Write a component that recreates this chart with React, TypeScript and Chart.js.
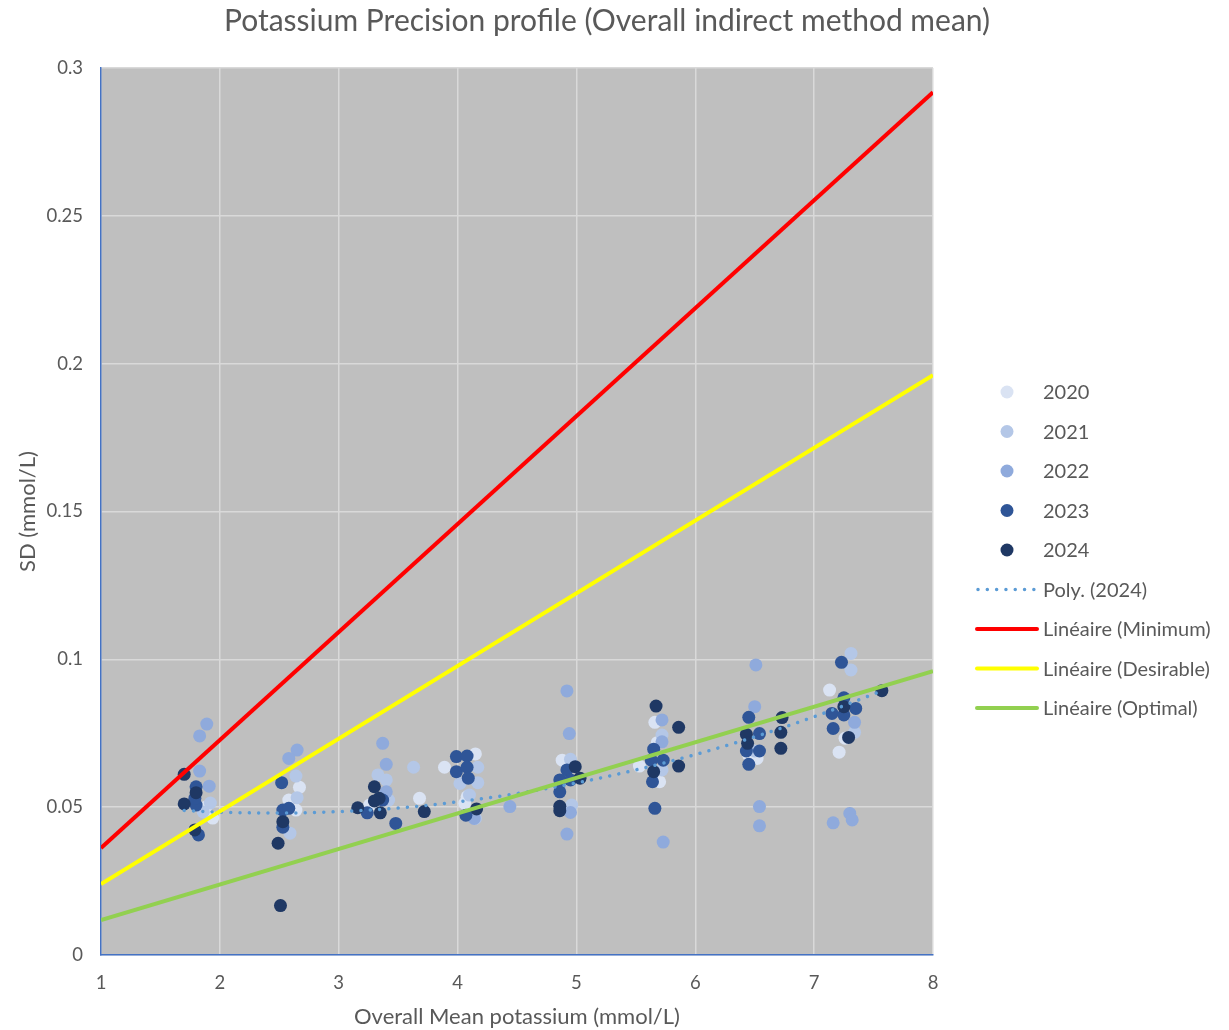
import React, { useEffect, useRef } from "react";
import { Chart, registerables } from "chart.js";

Chart.register(...registerables);

const CHART_TITLE = "Potassium Precision profile (Overall indirect method mean)";
const X_TITLE = "Overall Mean potassium (mmol/L)";
const Y_TITLE = "SD (mmol/L)";

const yearLabels = ["2020", "2021", "2022", "2023", "2024"];
const yearColors = ["#DAE3F3", "#B4C7E7", "#8FAADC", "#2F5597", "#1F3864"];

// [mean, SD] per laboratory
const data2020: [number, number][] = [
  [1.94, 0.0463], [1.88, 0.05], [2.67, 0.0567], [2.58, 0.0524], [2.64, 0.049],
  [3.26, 0.0507], [3.68, 0.053], [3.89, 0.0635], [4.15, 0.068], [4.06, 0.0513],
  [4.08, 0.0535], [4.88, 0.0659], [5.53, 0.0639], [5.66, 0.0787], [5.68, 0.0718],
  [5.7, 0.0586], [6.45, 0.0676], [6.52, 0.0665], [7.13, 0.0896], [7.21, 0.0686],
  [7.26, 0.0733],
];
const data2021: [number, number][] = [
  [1.92, 0.0514], [1.86, 0.0484], [2.64, 0.0605], [2.65, 0.0532], [2.59, 0.0412],
  [3.33, 0.0609], [3.4, 0.0592], [3.42, 0.0524], [3.63, 0.0635], [4.17, 0.0635],
  [4.02, 0.058], [4.17, 0.0583], [4.15, 0.0462], [4.1, 0.0541], [4.95, 0.0662],
  [4.96, 0.0507], [5.72, 0.0744], [5.72, 0.0626], [6.5, 0.069], [7.31, 0.102],
  [7.31, 0.0964], [7.34, 0.0753],
];
const data2022: [number, number][] = [
  [1.89, 0.0781], [1.83, 0.0741], [1.83, 0.0622], [1.91, 0.0571], [2.65, 0.0693],
  [2.58, 0.0665], [3.37, 0.0716], [3.4, 0.0645], [3.4, 0.0552], [4.14, 0.0462],
  [4.44, 0.0502], [4.92, 0.0893], [4.94, 0.0749], [4.92, 0.0409], [4.95, 0.0482],
  [5.72, 0.0795], [5.72, 0.0721], [5.73, 0.0382], [6.51, 0.0981], [6.5, 0.084],
  [6.54, 0.0502], [6.54, 0.0437], [7.34, 0.0787], [7.16, 0.0447], [7.3, 0.0479],
  [7.32, 0.0457],
];
const data2023: [number, number][] = [
  [1.8, 0.0569], [1.8, 0.0507], [1.82, 0.0406], [1.79, 0.053], [2.52, 0.0583],
  [2.53, 0.049], [2.58, 0.0496], [2.53, 0.0432], [3.24, 0.0481], [3.48, 0.0445],
  [3.37, 0.0524], [3.99, 0.0671], [4.08, 0.0673], [3.99, 0.062], [4.08, 0.0635],
  [4.09, 0.0598], [4.07, 0.0473], [4.92, 0.0626], [4.86, 0.0592], [4.86, 0.0552],
  [4.95, 0.0592], [5.65, 0.0696], [5.73, 0.0659], [5.64, 0.0586], [5.66, 0.0496],
  [5.63, 0.0659], [6.45, 0.0804], [6.54, 0.0749], [6.43, 0.069], [6.54, 0.069],
  [6.45, 0.0645], [7.23, 0.099], [7.25, 0.087], [7.15, 0.0817], [7.25, 0.0812],
  [7.35, 0.0834], [7.16, 0.0766],
];
const data2024: [number, number][] = [
  [1.7, 0.0611], [1.7, 0.0511], [1.8, 0.0549], [1.79, 0.0423], [2.53, 0.0451],
  [2.49, 0.0378], [2.51, 0.0167], [3.3, 0.0569], [3.34, 0.053], [3.3, 0.0521],
  [3.16, 0.0498], [3.35, 0.0481], [3.72, 0.0485], [4.16, 0.0494], [4.99, 0.0637],
  [5.03, 0.0598], [4.86, 0.0488], [4.86, 0.0503], [5.67, 0.0842], [5.86, 0.077],
  [5.86, 0.0639], [5.65, 0.062], [6.43, 0.0746], [6.44, 0.0716], [6.73, 0.0803],
  [6.72, 0.0753], [6.72, 0.0699], [7.25, 0.084], [7.29, 0.0736], [7.57, 0.0894],
];

// Poly. (2024) trendline
const polyX = [1.7, 2.0, 2.5, 3.0, 3.5, 4.0, 4.5, 5.0, 5.5, 6.0, 6.5, 7.0, 7.57];
const polyY = [0.0489, 0.0483, 0.048, 0.0485, 0.0497, 0.0518, 0.0546, 0.0582, 0.0626, 0.0678, 0.0738, 0.0806, 0.0893];

// Linear limit lines (endpoints at x = 1 and x = 8)
const limitX = [1, 8];
const minimumY = [0.0362, 0.2918];
const desirableY = [0.024, 0.1961];
const optimalY = [0.0118, 0.096];

const xTicks = [1, 2, 3, 4, 5, 6, 7, 8];
const yTicks = [0, 0.05, 0.1, 0.15, 0.2, 0.25, 0.3];

const FONT = "Lato";
const TEXT = "#595959";

const toPts = (arr: [number, number][]) => arr.map(([x, y]) => ({ x, y }));
const zipPts = (xs: number[], ys: number[]) => xs.map((x, i) => ({ x, y: ys[i] }));

type LegendEntry = { label: string; kind: "dot" | "line"; color: string; dash?: boolean };

const legendEntries: LegendEntry[] = [
  ...yearLabels.map((l, i) => ({ label: l, kind: "dot" as const, color: yearColors[i] })),
  { label: "Poly. (2024)", kind: "line", color: "#5B9BD5", dash: true },
  { label: "Linéaire (Minimum)", kind: "line", color: "#FF0000" },
  { label: "Linéaire (Desirable)", kind: "line", color: "#FFFF00" },
  { label: "Linéaire (Optimal)", kind: "line", color: "#92D050" },
];

const decorPlugin = {
  id: "decor",
  beforeDraw(chart: any) {
    const { ctx, chartArea } = chart;
    ctx.save();
    ctx.fillStyle = "#FFFFFF";
    ctx.fillRect(0, 0, chart.width, chart.height);
    ctx.fillStyle = "#BFBFBF";
    ctx.fillRect(chartArea.left, chartArea.top, chartArea.right - chartArea.left, chartArea.bottom - chartArea.top);
    ctx.restore();
  },
  afterDraw(chart: any) {
    const { ctx } = chart;
    ctx.save();
    ctx.fillStyle = TEXT;
    ctx.textAlign = "center";
    ctx.textBaseline = "middle";
    ctx.font = `30px ${FONT}`;
    ctx.fillText(CHART_TITLE, 607, 21);

    const startY = 392;
    const step = 39.5;
    ctx.font = `20px ${FONT}`;
    ctx.textAlign = "left";
    legendEntries.forEach((e, i) => {
      const y = startY + i * step;
      if (e.kind === "dot") {
        ctx.beginPath();
        ctx.fillStyle = e.color;
        ctx.arc(1007, y, 6.5, 0, Math.PI * 2);
        ctx.fill();
      } else {
        ctx.beginPath();
        ctx.strokeStyle = e.color;
        if (e.dash) {
          ctx.lineWidth = 3.5;
          ctx.lineCap = "round";
          ctx.setLineDash([0.01, 9.3]);
          ctx.moveTo(978, y);
          ctx.lineTo(1036, y);
        } else {
          ctx.lineWidth = 4;
          ctx.lineCap = "round";
          ctx.setLineDash([]);
          ctx.moveTo(977, y);
          ctx.lineTo(1037, y);
        }
        ctx.stroke();
        ctx.setLineDash([]);
      }
      ctx.fillStyle = TEXT;
      ctx.fillText(e.label, 1043, y + 1);
    });
    ctx.restore();
  },
};

export default function App() {
  const canvasRef = useRef<HTMLCanvasElement | null>(null);

  useEffect(() => {
    document.body.style.margin = "0";
    const canvas = canvasRef.current;
    if (!canvas) return;
    const yearData = [data2020, data2021, data2022, data2023, data2024];
    const scatterSets = yearData.map((d, i) => ({
      type: "scatter" as const,
      label: yearLabels[i],
      data: toPts(d),
      backgroundColor: yearColors[i],
      borderWidth: 0,
      pointRadius: 6.5,
      pointHoverRadius: 6.5,
      order: 20 - i,
    }));
    const lineBase = {
      type: "line" as const,
      pointRadius: 0,
      pointHoverRadius: 0,
      fill: false,
    };
    const chart = new Chart(canvas, {
      type: "scatter",
      data: {
        datasets: [
          ...scatterSets,
          {
            ...lineBase,
            label: "Poly. (2024)",
            data: zipPts(polyX, polyY),
            borderColor: "#5B9BD5",
            borderWidth: 3.5,
            borderDash: [0.01, 9.3],
            borderCapStyle: "round",
            cubicInterpolationMode: "monotone",
            order: 5,
          },
          {
            ...lineBase,
            label: "Linéaire (Minimum)",
            data: zipPts(limitX, minimumY),
            borderColor: "#FF0000",
            borderWidth: 4,
            order: 4,
          },
          {
            ...lineBase,
            label: "Linéaire (Desirable)",
            data: zipPts(limitX, desirableY),
            borderColor: "#FFFF00",
            borderWidth: 4,
            order: 3,
          },
          {
            ...lineBase,
            label: "Linéaire (Optimal)",
            data: zipPts(limitX, optimalY),
            borderColor: "#92D050",
            borderWidth: 4,
            order: 2,
          },
        ] as any,
      },
      options: {
        animation: false,
        responsive: true,
        maintainAspectRatio: false,
        layout: { padding: { top: 68, right: 296, left: 0, bottom: 0 } },
        plugins: {
          legend: { display: false },
          title: { display: false },
          tooltip: { enabled: false },
        },
        scales: {
          x: {
            type: "linear",
            min: 1,
            max: 8,
            afterFit: (s: any) => {
              s.height = 75;
            },
            afterBuildTicks: (s: any) => {
              s.ticks = xTicks.map((v) => ({ value: v }));
            },
            ticks: {
              color: TEXT,
              font: { family: FONT, size: 18.5 },
              padding: 17,
              callback: (v: any) => String(v),
            },
            grid: { color: "#D9D9D9", lineWidth: 1.5, drawTicks: false },
            border: { color: "#4472C4", width: 1.5 },
            title: {
              display: true,
              text: X_TITLE,
              color: TEXT,
              font: { family: FONT, size: 22 },
              padding: { top: 0, bottom: 0 },
            },
          },
          y: {
            type: "linear",
            min: 0,
            max: 0.3,
            afterFit: (s: any) => {
              s.width = 101;
            },
            afterBuildTicks: (s: any) => {
              s.ticks = yTicks.map((v) => ({ value: v }));
            },
            ticks: {
              color: TEXT,
              font: { family: FONT, size: 18.5 },
              padding: 18,
              callback: (v: any) => String(Number(Number(v).toFixed(2))),
            },
            grid: { color: "#D9D9D9", lineWidth: 1.5, drawTicks: false },
            border: { color: "#4472C4", width: 1.5 },
            title: {
              display: true,
              text: Y_TITLE,
              color: TEXT,
              font: { family: FONT, size: 22 },
              padding: { top: 15, bottom: 0 },
            },
          },
        },
      },
      plugins: [decorPlugin],
    });
    return () => chart.destroy();
  }, []);

  return (
    <div style={{ position: "absolute", left: 0, top: 0, width: 1229, height: 1030, background: "#fff" }}>
      <canvas ref={canvasRef} />
    </div>
  );
}
